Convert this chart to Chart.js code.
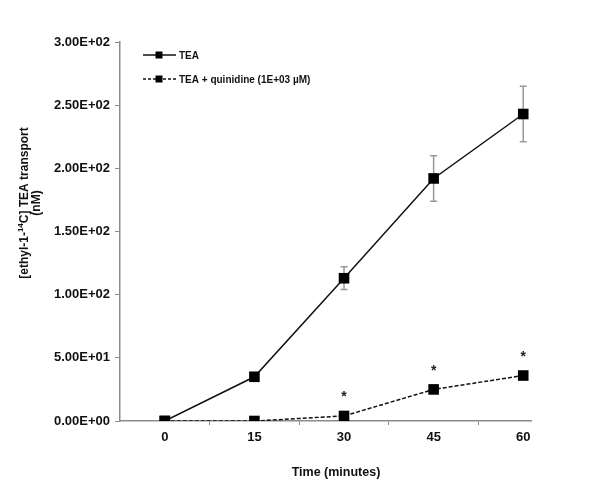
<!DOCTYPE html>
<html>
<head>
<meta charset="utf-8">
<script src="https://cdn.jsdelivr.net/npm/chart.js@4.4.0/dist/chart.umd.min.js"></script>
<style>
  body { margin: 0; background: #fff; }
  canvas { display: block; }
</style>
</head>
<body>
<canvas id="transportChart" width="600" height="498"></canvas>
<script>
// Data
const times = [0, 15, 30, 45, 60];
const tea = [0, 35, 113, 192, 243];
const teaErr = [0, 0, 9, 18, 22];
const teaQuinidine = [0, 0, 4, 25, 36];
const asteriskAt = [null, null, 22, 43, 54]; // height of the "*" marks
const yTickValues = [0, 50, 100, 150, 200, 250, 300];
const xMinorTicks = [7.5, 22.5, 37.5, 52.5];

const FONT = "'Liberation Sans', Arial, sans-serif";
const AXIS_GRAY = "#8c8c8c";

// Format like Excel's 0.00E+00
function sci(v) {
    if (v === 0) return "0.00E+00";
    const exp = Math.floor(Math.log10(Math.abs(v)));
    const mant = (v / Math.pow(10, exp)).toFixed(2);
    const sign = exp < 0 ? "-" : "+";
    return mant + "E" + sign + String(Math.abs(exp)).padStart(2, "0");
}

// Error bars, asterisks, legend and axis titles
const extras = {
    id: "extras",
    beforeDatasetsDraw(chart) {
        const { ctx, scales: { x, y } } = chart;
        ctx.save();
        ctx.strokeStyle = "#999";
        ctx.lineWidth = 1.5;
        times.forEach((t, i) => {
            if (!teaErr[i]) return;
            const px = x.getPixelForValue(t);
            const top = y.getPixelForValue(tea[i] + teaErr[i]);
            const bot = y.getPixelForValue(tea[i] - teaErr[i]);
            ctx.beginPath();
            ctx.moveTo(px, top); ctx.lineTo(px, bot);
            ctx.moveTo(px - 3.5, top); ctx.lineTo(px + 3.5, top);
            ctx.moveTo(px - 3.5, bot); ctx.lineTo(px + 3.5, bot);
            ctx.stroke();
        });
        ctx.restore();
    },
    afterDraw(chart) {
        const { ctx, scales: { x, y } } = chart;
        ctx.save();

        // asterisks
        ctx.fillStyle = "#222";
        ctx.font = "bold 14px " + FONT;
        ctx.textAlign = "center";
        ctx.textBaseline = "alphabetic";
        times.forEach((t, i) => {
            if (asteriskAt[i] == null) return;
            ctx.fillText("*", x.getPixelForValue(t), y.getPixelForValue(asteriskAt[i]) + 8);
        });

        // legend
        const rows = [
            { y: 55, dash: [], text: "TEA" },
            { y: 79, dash: [3, 2], text: "TEA + quinidine (1E+03 \u00b5M)" },
        ];
        ctx.font = "bold 10px " + FONT;
        ctx.textAlign = "left";
        ctx.textBaseline = "middle";
        rows.forEach((r) => {
            ctx.strokeStyle = "#111";
            ctx.lineWidth = 1.3;
            ctx.setLineDash(r.dash);
            ctx.beginPath();
            ctx.moveTo(143, r.y); ctx.lineTo(176, r.y);
            ctx.stroke();
            ctx.setLineDash([]);
            ctx.fillStyle = "#000";
            ctx.fillRect(155.5, r.y - 3.5, 7, 7);
            ctx.fillStyle = "#111";
            ctx.fillText(r.text, 179, r.y + 1);
        });

        // x axis title
        ctx.font = "bold 12.5px " + FONT;
        ctx.textAlign = "center";
        ctx.fillText("Time (minutes)", 336, 473);

        // y axis title, two lines, rotated
        ctx.translate(0, 203);
        ctx.rotate(-Math.PI / 2);
        const parts = [
            { t: "[ethyl-1-", f: "bold 12px " + FONT, dy: 0 },
            { t: "14", f: "bold 8px " + FONT, dy: -4 },
            { t: "C] TEA transport", f: "bold 12px " + FONT, dy: 0 },
        ];
        let w = 0;
        parts.forEach((p) => { ctx.font = p.f; w += ctx.measureText(p.t).width; });
        let cx = -w / 2;
        ctx.textAlign = "left";
        parts.forEach((p) => {
            ctx.font = p.f;
            ctx.fillText(p.t, cx, 24.5 + p.dy);
            cx += ctx.measureText(p.t).width;
        });
        ctx.font = "bold 12px " + FONT;
        ctx.textAlign = "center";
        ctx.fillText("(nM)", 0, 37);

        ctx.restore();
    },
};

const ctx = document.getElementById("transportChart").getContext("2d");
const chart = new Chart(ctx, {
    type: "line",
    data: {
        datasets: [
            {
                label: "TEA",
                data: times.map((t, i) => ({ x: t, y: tea[i] })),
                borderColor: "#111",
                borderWidth: 1.5,
                pointStyle: "rect",
                pointRadius: 7.5,
                pointBackgroundColor: "#000",
                pointBorderWidth: 0,
            },
            {
                label: "TEA + quinidine (1E+03 \u00b5M)",
                data: times.map((t, i) => ({ x: t, y: teaQuinidine[i] })),
                borderColor: "#111",
                borderWidth: 1.5,
                borderDash: [4, 2],
                pointStyle: "rect",
                pointRadius: 7.5,
                pointBackgroundColor: "#000",
                pointBorderWidth: 0,
            },
        ],
    },
    options: {
        responsive: false,
        animation: false,
        layout: { padding: { top: 42, right: 69, left: 0, bottom: 0 } },
        plugins: {
            legend: { display: false },
            tooltip: { enabled: false },
        },
        scales: {
            x: {
                type: "linear",
                min: -7.5,
                max: 61.3,
                afterFit: (scale) => { scale.height = 77; },
                afterBuildTicks: (scale) => {
                    scale.ticks = times.concat(xMinorTicks).sort((a, b) => a - b).map((v) => ({ value: v }));
                },
                grid: {
                    drawOnChartArea: false,
                    tickLength: 4,
                    tickColor: (c) => (c.tick && c.tick.value % 15 === 0 ? "rgba(0,0,0,0)" : AXIS_GRAY),
                },
                border: { color: AXIS_GRAY, width: 1.5 },
                ticks: {
                    autoSkip: false,
                    maxRotation: 0,
                    padding: 5,
                    color: "#111",
                    font: { family: FONT, size: 13, weight: "bold" },
                    callback: (v) => (times.includes(v) ? String(v) : ""),
                },
            },
            y: {
                min: 0,
                max: 300,
                afterFit: (scale) => { scale.width = 120; },
                afterBuildTicks: (scale) => {
                    scale.ticks = yTickValues.map((v) => ({ value: v }));
                },
                grid: {
                    drawOnChartArea: false,
                    tickLength: 5,
                    tickColor: AXIS_GRAY,
                },
                border: { color: AXIS_GRAY, width: 1.5 },
                ticks: {
                    padding: 5,
                    color: "#111",
                    font: { family: FONT, size: 13, weight: "bold" },
                    callback: (v) => sci(v),
                },
            },
        },
    },
    plugins: [extras],
});
</script>
</body>
</html>
